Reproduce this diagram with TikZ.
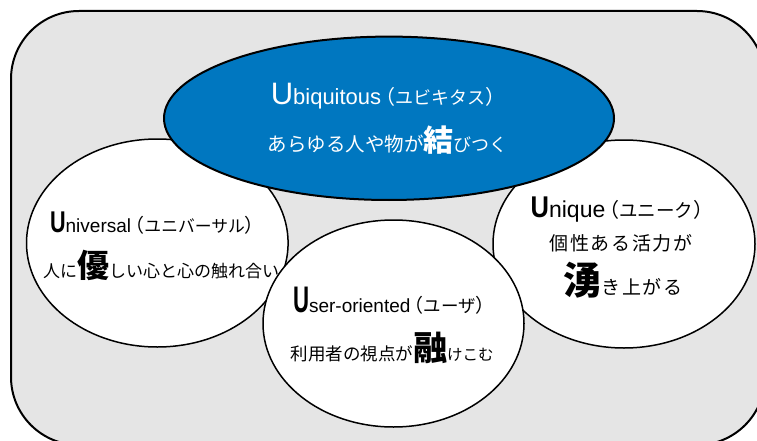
\documentclass[tikz,border=0pt]{standalone}
\usepackage{fontspec}
\setmainfont{Liberation Sans}
\newfontfamily\jp{Noto Sans CJK JP}
\newfontfamily\jpls{Noto Sans CJK JP}[LetterSpace=9]
\usetikzlibrary{shapes.geometric}
\definecolor{bgray}{RGB}{229,229,229}
\definecolor{ublue}{RGB}{0,119,192}
\newcommand\fs[1]{\fontsize{#1}{#1}\selectfont}
\newcommand\kata[3]{{\jp\fs{#1}\hspace{-0.3em}（}{\jp\fs{#2}#3}{\jp\fs{#1}）\hspace{-0.45em}}}
\tikzset{
  frame/.style={draw=black, line width=2pt, fill=bgray, rectangle, rounded corners=68pt, inner sep=0pt},
  bubble/.style={draw=black, line width=1.5pt, fill=white, ellipse, inner sep=0pt},
  bluebubble/.style={draw=black, line width=2pt, fill=ublue, ellipse, inner sep=0pt},
  txt/.style={anchor=base, inner sep=0pt, text=black},
  wtxt/.style={anchor=base, inner sep=0pt, text=white},
}
\begin{document}
\begin{tikzpicture}[x=1pt, y=-1pt]
\useasboundingbox (0,0) rectangle (757,441);
\clip (0,0) rectangle (757,441);
\node[frame, minimum width=754pt, minimum height=434pt] (frm) at (388,228) {};
\node[bubble, minimum width=261.6pt, minimum height=208pt] (univ) at (157.3,243) {};
\node[bubble, minimum width=262pt, minimum height=208pt] (uniq) at (624,244) {};
\node[bubble, minimum width=261pt, minimum height=207pt] (user) at (393.5,323.5) {};
\node[bluebubble, minimum width=450pt, minimum height=163.4pt] (ubiq) at (389,118.3) {};
% Ubiquitous
\node[wtxt] (ubq1) at (388,105) {{\fs{31}U}{\fs{22}biquitous}\kata{20}{18}{ユビキタス}};
\node[wtxt] (ubq2) at (387.5,151) {{\jp\fs{19.5}あらゆる人や物が}{\jp\bfseries\fs{30}結}{\jp\fs{18}びつく}};
% Universal
\node[txt] (unv1) at (157,232) {{\bfseries\fs{30}\scalebox{0.72}[1]{U}}{\fs{19}niversal}\kata{19}{16.8}{ユニバーサル}};
\node[txt] (unv2) at (161,277) {{\jp\fs{17}人に}{\jp\bfseries\fs{32}優}{\jp\fs{17}しい心と心の触れ合い}};
% Unique
\node[txt] (unq1) at (622,217) {{\bfseries\fs{30}\scalebox{0.85}[1]{U}}{\fs{23}nique}\kata{20}{18.5}{ユニーク}};
\node[txt] (unq2) at (621,250) {{\jpls\fs{19}個性ある活力が}};
\node[txt] (unq3) at (623,294) {{\jp\bfseries\fs{38}湧}{\jpls\fs{19}き上がる}};
% User-oriented
\node[txt] (usr1) at (394,312) {{\bfseries\fs{37}\scalebox{0.6}[1]{U}}{\fs{19}ser-oriented}\kata{19}{17.5}{ユーザ}};
\node[txt] (usr2) at (392,360) {{\jp\fs{17.5}利用者の視点が}{\jp\bfseries\fs{34}融}{\jp\fs{15.5}けこむ}};
\end{tikzpicture}
\end{document}
